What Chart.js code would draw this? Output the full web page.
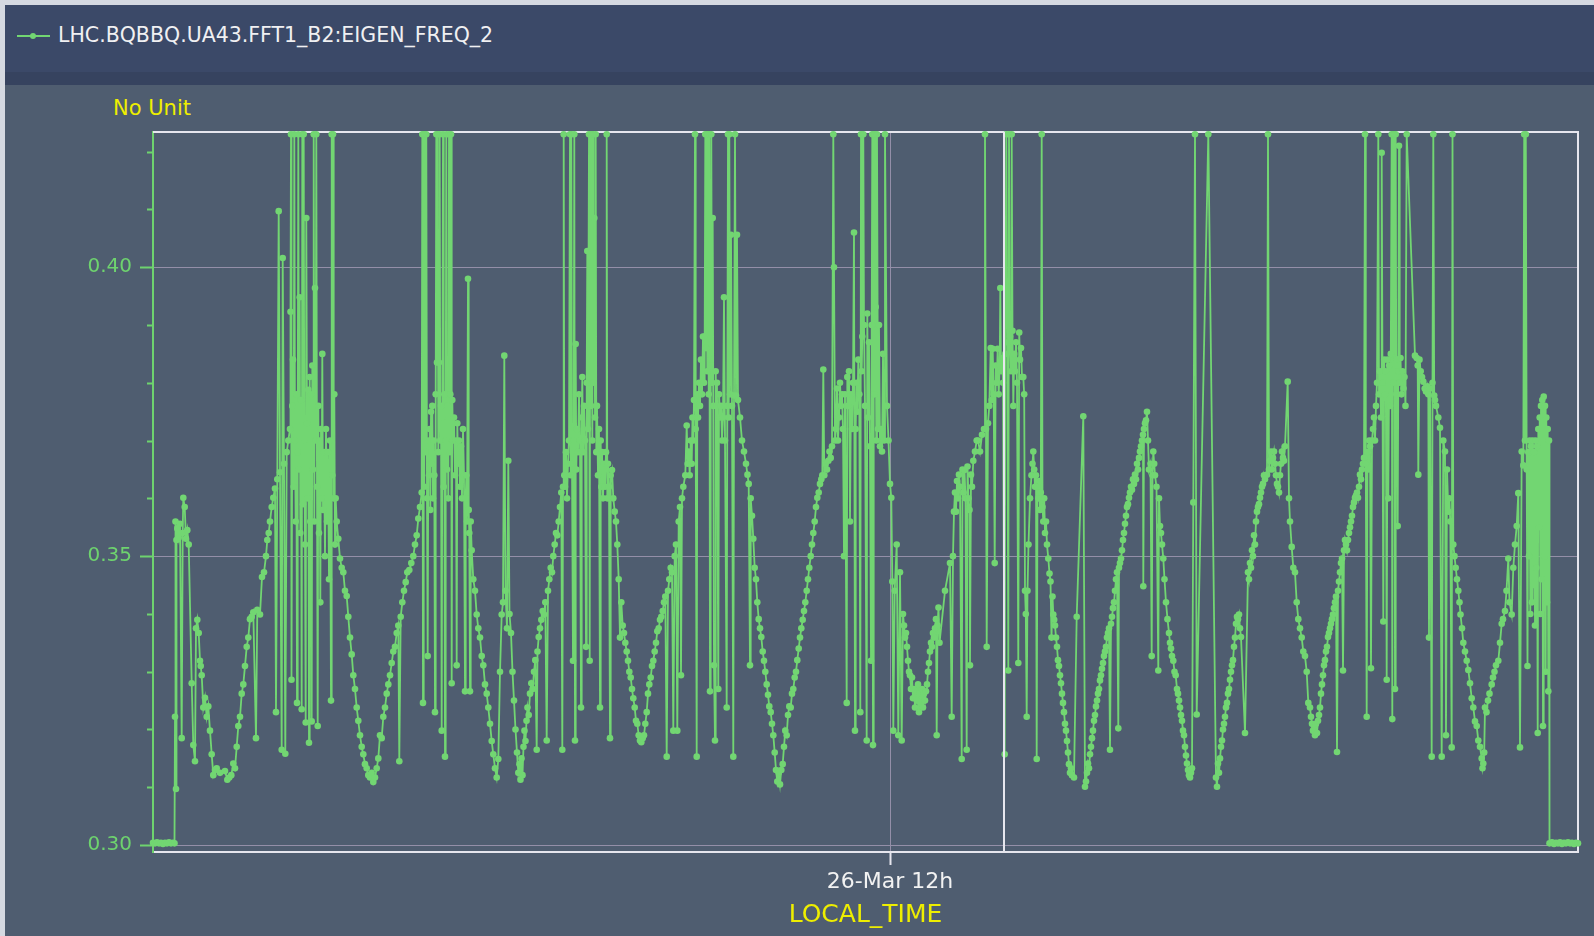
<!DOCTYPE html>
<html>
<head>
<meta charset="utf-8">
<title>LHC.BQBBQ.UA43.FFT1_B2:EIGEN_FREQ_2</title>
<script src="https://cdn.jsdelivr.net/npm/chart.js@4/dist/chart.umd.min.js"></script>
<style>
  html, body { margin: 0; padding: 0; width: 1594px; height: 936px; overflow: hidden;
    background: #4f5d70; font-family: "DejaVu Sans", sans-serif; }
  .edge-top { position: absolute; left: 0; top: 0; width: 1594px; height: 5px; background: #d5d9e1; }
  .edge-left { position: absolute; left: 0; top: 0; width: 5px; height: 936px; background: #d5d9e1; }
  .header { position: absolute; left: 5px; top: 5px; width: 1589px; height: 67px; background: #3b4968; }
  .header-shade { position: absolute; left: 5px; top: 72px; width: 1589px; height: 13px; background: #36435f; }
  .legend-line { position: absolute; left: 17px; top: 35px; width: 33px; height: 2px; background: #72d672; }
  .legend-dot { position: absolute; left: 30px; top: 33px; width: 6px; height: 6px; border-radius: 3px; background: #72d672; }
  .legend-text { position: absolute; left: 58px; top: 22px; line-height: 26px; font-size: 20.5px; color: #f0f0f2; white-space: nowrap; }
  .unit { position: absolute; left: 113px; top: 96px; line-height: 24px; font-size: 21px; color: #eeee00; white-space: nowrap; }
  #chart { position: absolute; left: 0; top: 0; }
</style>
</head>
<body>
<div class="edge-top"></div>
<div class="edge-left"></div>
<div class="header"></div>
<div class="header-shade"></div>
<div class="legend-line"></div>
<div class="legend-dot"></div>
<div class="legend-text" id="legendText"></div>
<div class="unit" id="unitText"></div>
<canvas id="chart" width="1594" height="936"></canvas>
<script>
// Series name and unit shown above the plot
const seriesName = 'LHC.BQBBQ.UA43.FFT1_B2:EIGEN_FREQ_2';
const unitLabel = 'No Unit';
const timeAxisTitle = 'LOCAL_TIME';

// Time axis: minutes since 26-Mar 00:00 local time
const xTickMinutes = [720];
const xTickLabels = ['26-Mar 12h'];
// Time of the vertical cursor line
const cursorMinute = [834];

// Value axis
const yRange = [0.2988, 0.4234];
const yMajorTicks = [0.30, 0.35, 0.40];
const yMinorTicks = [0.31, 0.32, 0.33, 0.34, 0.36, 0.37, 0.38, 0.39, 0.41, 0.42];

// Logged samples: [minute, eigen frequency]
const eigenFreq2Samples = [
  [-17,0.3004],[-15,0.3003],[-13,0.3005],[-11,0.3003],[-9,0.3004],[-7,0.3002],[-5,0.3004],[-3,0.3003],[-1,0.3005],[1,0.3003],[3,0.3004],[4.5,0.3003],
  [5,0.3222],[5.5,0.3560],[6,0.3097],[6.5,0.3528],[7.3,0.3548],[8.7,0.3532],[10,0.3556],[11.7,0.3185],[12.7,0.3540],[13.3,0.3601],[14.7,0.3585],[16,0.3530],[17.3,0.3545],[18.7,0.3520],
  [21.7,0.3280],[23.3,0.3173],[25,0.3145],[26,0.3375],[27.3,0.3390],[28.7,0.3367],[30,0.3319],[30.7,0.3310],[31.7,0.3294],[33.3,0.3238],[35,0.3255],[36.7,0.3222],[38.3,0.3240],[40,0.3198],
  [41.7,0.3157],[43.3,0.3121],[45,0.3130],[46.7,0.3133],[50,0.3125],[55,0.3128],[57.3,0.3113],[59.3,0.3117],[61.3,0.3121],[63.3,0.3141],[65,0.3133],[66.7,0.3170],[68.3,0.3206],[70,0.3222],
  [71.7,0.3262],[73.3,0.3278],[75,0.3310],[76.7,0.3343],[78.3,0.3359],[80,0.3391],[81.7,0.3395],[83.3,0.3403],[86,0.3185],[87.3,0.3407],[90,0.3399],[92,0.3464],[94,0.3472],[96,0.3500],
  [97.3,0.3528],[98.7,0.3540],[100,0.3560],[101.7,0.3585],[103.3,0.3601],[105,0.3617],[106,0.3230],[107.3,0.3633],[108.7,0.4097],[110,0.3645],[111.7,0.3165],[112.7,0.4016],[114,0.3660],
  [115.3,0.3158],[116.7,0.3680],[118.3,0.3700],[120,0.3720],
  [120.5,0.3923],[121,0.4230],[121.5,0.3286],[122.3,0.3760],[123,0.3840],[123.7,0.3620],[124.3,0.4230],[125,0.3700],[125.7,0.3560],[126.3,0.3780],[127,0.3246],[127.7,0.3680],[128.3,0.4230],
  [129,0.3650],[129.7,0.3948],[130.3,0.3540],[131,0.3770],[131.7,0.3235],[132.3,0.4230],[133,0.3590],[133.7,0.4230],[134.3,0.3700],[135,0.3520],[135.7,0.3212],[136.3,0.4085],[137,0.3730],
  [137.7,0.3600],[138.3,0.3788],[139,0.3177],[139.7,0.3810],[140.3,0.3560],[141,0.3780],[141.7,0.3214],[142.3,0.3830],[143,0.3650],[143.7,0.4230],[144.3,0.3560],[145,0.3964],[145.7,0.3700],
  [146.3,0.4230],[147,0.3620],[147.7,0.3206],[148.3,0.3760],[149,0.3540],[149.7,0.3700],[150.3,0.3420],[151,0.3720],[151.7,0.3600],[152.3,0.3850],[153,0.3580],[154,0.3680],[155,0.3500],
  [156,0.3720],[157,0.3560],[158,0.3680],[159,0.3460],[160,0.3700],[161,0.3250],[161.7,0.4230],[162.3,0.3640],[163,0.4230],[163.7,0.3600],[164.3,0.3780],[165,0.3520],[165.7,0.3600],[166.7,0.3560],
  [168.3,0.3530],[170,0.3496],[171.7,0.3480],[173.3,0.3472],[175,0.3440],[176.7,0.3431],[178.3,0.3395],[180,0.3359],[181.7,0.3330],[183.3,0.3294],[185,0.3270],[186.7,0.3238],[188.3,0.3215],
  [190,0.3190],[191.7,0.3170],[193.3,0.3157],[195,0.3140],[196.7,0.3133],[198.3,0.3121],[200,0.3117],[201.7,0.3125],[203.3,0.3109],[205,0.3117],[206.7,0.3133],[208.3,0.3150],[210,0.3190],
  [211.7,0.3185],[213.3,0.3222],[215,0.3238],[216.7,0.3262],[218.3,0.3278],[220,0.3294],[221.7,0.3315],[223.3,0.3335],[225,0.3343],[226.7,0.3367],[228.3,0.3380],[229.3,0.3145],[230.7,0.3395],
  [232.3,0.3420],[234,0.3440],[235.7,0.3455],[237.3,0.3472],[239.3,0.3476],[241.3,0.3488],[243.3,0.3500],[245,0.3520],[246.7,0.3536],[248.3,0.3565],[250,0.3585],[251.7,0.3610],
  [252.3,0.4230],[253,0.3246],[253.7,0.4230],[254.3,0.3620],[255,0.4230],[255.7,0.3680],[256.3,0.4230],[257,0.3600],[257.7,0.3327],[258.3,0.3700],[259,0.3640],[259.7,0.3720],[260.3,0.3580],
  [261,0.3750],[261.7,0.3660],[262.3,0.3760],[263,0.3600],[263.7,0.3700],[264.3,0.3640],[265,0.3230],[265.7,0.3780],[266.3,0.4230],[267,0.3835],[267.7,0.4230],[268.3,0.3680],[269,0.3835],
  [269.7,0.4230],[270.3,0.3700],[271,0.3760],[271.7,0.3198],[272.3,0.3740],[273,0.4230],[273.7,0.3620],[274.3,0.3780],[275,0.3153],[275.7,0.3700],[276.3,0.4230],[277,0.3650],[277.7,0.3760],
  [278.3,0.3600],[279,0.4230],[279.7,0.3680],[280.3,0.3780],[281,0.4230],[281.7,0.3280],[282.3,0.3770],[283,0.3700],[284,0.3740],[285,0.3640],[286,0.3700],[286.7,0.3311],[287.3,0.3730],
  [288,0.3660],[289,0.3700],[290,0.3620],[291,0.3690],[292,0.3600],[293,0.3720],[294,0.3640],[295,0.3266],[295.7,0.3600],[296.3,0.3640],[297,0.3560],[298,0.3980],[298.7,0.3580],[299.3,0.3540],
  [300,0.3266],[300.7,0.3560],
  [301.7,0.3510],[303.3,0.3460],[305,0.3440],[306.7,0.3399],[308.3,0.3375],[310,0.3359],[311.7,0.3327],[313.3,0.3311],[315,0.3278],[316.7,0.3262],[318.3,0.3238],[320,0.3210],[321.7,0.3180],
  [323.3,0.3157],[325,0.3133],[326.7,0.3117],[328.3,0.3149],[330,0.3300],[331.7,0.3399],[333,0.3420],[334.3,0.3847],[335.5,0.3440],[337,0.3375],[338.3,0.3665],[339.5,0.3400],[341,0.3367],
  [342.5,0.3300],[344,0.3250],[345.5,0.3200],[347,0.3160],[348.3,0.3125],[349.5,0.3140],[350.5,0.3113],[351.5,0.3150],[352.5,0.3121],[353.5,0.3170],[354.5,0.3198],[355.5,0.3180],[356.5,0.3215],
  [357.5,0.3238],[358.7,0.3225],[360,0.3262],[361.3,0.3280],[362.7,0.3270],[364,0.3300],[365.3,0.3320],[366.7,0.3165],[367.5,0.3335],[368.7,0.3360],[370,0.3375],[371.3,0.3390],[372.7,0.3405],
  [374,0.3399],[375.3,0.3420],[376.7,0.3181],[378,0.3440],[379.3,0.3460],[380.7,0.3480],[382,0.3472],[383.3,0.3500],[384.7,0.3520],[386,0.3540],[387.3,0.3536],[388.7,0.3560],[390,0.3585],
  [391.3,0.3610],[392.3,0.3165],[393,0.3620],
  [393.7,0.4230],[394.3,0.3640],[395,0.3620],[396,0.3680],[397,0.3600],[398,0.3660],[399,0.3700],[400,0.4230],[400.7,0.3640],[401.3,0.4230],[402,0.3660],[403,0.3319],[403.7,0.3700],
  [404.3,0.4230],[405,0.3181],[405.7,0.3867],[406.3,0.3650],[407,0.3720],[408,0.3680],[409,0.3780],[410,0.3700],[411,0.3238],[411.7,0.3740],[412.3,0.3810],[413,0.3680],[414,0.3760],
  [415,0.3700],[416,0.3343],[416.7,0.3800],[417.3,0.4028],[418,0.3720],[419,0.4230],[419.7,0.3319],[420.3,0.4230],[421,0.3760],[421.7,0.4230],[422.3,0.3700],[423,0.4230],[423.7,0.3800],
  [424.3,0.4085],[425,0.3740],[425.7,0.4230],[426.3,0.3680],[427,0.3760],[428,0.3640],[429,0.3720],[430,0.3238],[430.7,0.3700],[431.3,0.3620],[432,0.3680],[433,0.3600],[434,0.3660],
  [435,0.3620],[436,0.3680],[436.7,0.4230],[437.3,0.3600],[438,0.3660],[439,0.3620],[440,0.3185],[440.7,0.3640],
  [442,0.3649],[443.3,0.3600],[444.7,0.3577],[446,0.3560],[447.3,0.3520],[448.7,0.3460],[450,0.3359],[451.3,0.3420],[452.7,0.3380],[454,0.3367],[455.3,0.3350],[456.7,0.3335],[458,0.3319],
  [459.3,0.3300],[460.7,0.3290],[462,0.3270],[463.3,0.3254],[464.7,0.3238],[466,0.3215],[467.3,0.3210],[468.7,0.3190],[470,0.3181],[471.3,0.3178],[472.7,0.3185],[474,0.3190],[475.3,0.3210],
  [476.7,0.3230],[478,0.3262],[479.3,0.3278],[480.7,0.3290],[482,0.3310],[483.3,0.3319],[484.7,0.3335],[486,0.3350],[487.3,0.3370],[488.7,0.3375],[490,0.3390],[491.3,0.3395],[492.7,0.3405],
  [494,0.3420],[495.3,0.3430],[496.7,0.3153],[498,0.3440],[499.3,0.3460],[500.7,0.3480],[502,0.3472],[503.3,0.3198],[504.7,0.3500],[506,0.3520],[507.3,0.3198],[508.7,0.3560],[510,0.3585],
  [511,0.3294],[512,0.3600],[513.3,0.3620],[515.3,0.3640],[516.7,0.3726],[517.7,0.3660],[518.7,0.3681],[519.7,0.3640],[520.7,0.3700],[521.7,0.3660],
  [522.5,0.3740],[523.3,0.3700],[524,0.3770],[525,0.4230],[525.7,0.3720],[526.7,0.3153],[527.3,0.3780],[528,0.3740],[529,0.3800],[530,0.3760],[531,0.3840],[532,0.3780],[533,0.3880],
  [534,0.3800],[534.7,0.3880],[535.3,0.4230],[536,0.3860],[536.7,0.4230],[537.3,0.3820],[538,0.4230],[538.7,0.3780],[539.3,0.4230],[540,0.3266],[540.7,0.3840],[541.3,0.4230],[542,0.3800],
  [542.7,0.4085],[543.3,0.3760],[544,0.3311],[545,0.3181],[545.7,0.3820],[546.3,0.3760],[547,0.3800],[548.3,0.3270],[549,0.3780],[550,0.3740],[551,0.3760],[552,0.3700],[553,0.3740],
  [554,0.3948],[555,0.3700],[556.7,0.3238],[557.3,0.3760],[558,0.4230],[558.7,0.3740],[559.3,0.4230],[560,0.3780],[561,0.4056],[562,0.3760],[563.3,0.3153],[564,0.3778],[565,0.4230],
  [566,0.3778],[567,0.4056],[568,0.3770],
  [570,0.3740],[572,0.3700],[574,0.3681],[576,0.3660],[577.5,0.3641],[578.7,0.3625],[580,0.3311],[580.7,0.3600],[582,0.3570],[583.3,0.3530],[584.7,0.3480],[586,0.3460],[587.3,0.3420],
  [588.7,0.3391],[590,0.3375],[591.3,0.3360],[592.7,0.3335],[594,0.3319],[595.3,0.3300],[596.7,0.3278],[598,0.3260],[599.3,0.3240],[600.7,0.3230],[602,0.3210],[603.3,0.3190],[604.7,0.3160],
  [606,0.3130],[607.3,0.3110],[608.7,0.3125],[610,0.3105],[611.3,0.3130],[612.7,0.3140],
  [614,0.3170],[615.3,0.3198],[616.7,0.3190],[618,0.3225],[619.3,0.3240],[620.7,0.3238],[622,0.3262],[623.3,0.3270],[624.7,0.3290],[626,0.3300],[627.3,0.3320],[628.7,0.3340],[630,0.3359],
  [631.3,0.3375],[632.7,0.3390],[634,0.3405],[635.3,0.3420],[636.7,0.3440],[638,0.3460],[639.3,0.3480],[640.7,0.3500],[642,0.3520],[643.3,0.3540],[644.7,0.3560],[646,0.3585],[647.3,0.3601],
  [648.7,0.3610],[650,0.3625],[651.3,0.3633],[652.3,0.3640],[653.3,0.3823],[654.3,0.3640],[655.5,0.3660],[657,0.3650],[658.3,0.3665],[659.5,0.3681],[660.7,0.3670],[662,0.3690],
  [663.3,0.4230],[664,0.4000],[665,0.3700],[666,0.3720],[667,0.3790],[668,0.3700],[669,0.3740],[670,0.3800],[671,0.3760],[672,0.3780],[673,0.3720],[674,0.3500],[675,0.3780],
  [676.7,0.3246],[677.3,0.3810],[678,0.3760],[679,0.3820],[680,0.3560],[681,0.3780],[682,0.3720],[683,0.3800],[684,0.4060],[685,0.3198],[685.7,0.3720],[686.5,0.3800],[687.3,0.3750],
  [688.3,0.3840],[689.3,0.3780],[690.3,0.3230],[691,0.4230],[691.7,0.3820],[692.3,0.3880],[693.3,0.4230],[694,0.3900],[695,0.3760],[696.7,0.3181],[697.3,0.3920],[698,0.3740],[699,0.3870],
  [700,0.3690],[701,0.3319],[701.7,0.3900],[702.3,0.4230],[703,0.3173],[703.7,0.4230],[704.3,0.3780],[705,0.4230],[705.7,0.3931],[706.3,0.3700],[707,0.4230],[708,0.3720],[709,0.3900],
  [710,0.3690],[711,0.3720],[712,0.3681],[713,0.3850],[714,0.3700],[715,0.4230],[717,0.3760],[718.5,0.3700],
  [720,0.3625],[721.3,0.3601],[722.3,0.3456],[723.3,0.3198],[724.7,0.3440],[726.7,0.3520],[728.3,0.3190],[730,0.3472],[731.7,0.3181],[733,0.3400],[734,0.3380],[735,0.3359],[736,0.3367],
  [737,0.3343],[738,0.3319],[739,0.3300],[740,0.3294],[741,0.3270],[742,0.3290],[743,0.3254],[744,0.3270],[745,0.3238],[746,0.3262],[747,0.3250],[748,0.3278],[749,0.3230],[750,0.3262],
  [751,0.3246],[752,0.3270],[753,0.3238],[754,0.3262],[755,0.3250],[756,0.3266],[757,0.3278],[758,0.3300],[759,0.3315],[760,0.3335],[761,0.3350],[762,0.3343],[763,0.3367],[764,0.3359],
  [765,0.3375],[766,0.3391],[766.7,0.3190],[767.5,0.3380],[768.5,0.3411],[769.5,0.3350],[775,0.3440],[780,0.3488],[781.7,0.3222],[783,0.3500],[784,0.3577],[785,0.3610],[786,0.3577],
  [787,0.3630],[788,0.3600],[789,0.3641],[790,0.3620],[791.7,0.3149],[792.5,0.3650],[793.5,0.3610],[794.5,0.3649],[795.5,0.3600],[796.7,0.3165],[797.5,0.3655],[798.5,0.3600],[799.5,0.3580],
  [800,0.3311],[801,0.3641],[802,0.3620],[803.3,0.3665],[805,0.3681],[806.7,0.3700],[808,0.3700],[810,0.3681],[812,0.3710],[814,0.3720],[815,0.4230],[816,0.3720],[816.7,0.3343],
  [818,0.3730],[819.3,0.3760],[820.7,0.3860],[821.7,0.3770],[822.7,0.3859],[823.7,0.3780],[824.7,0.3488],[825.7,0.3830],[826.7,0.3800],[827.7,0.3859],[828.7,0.3780],[829.7,0.3830],
  [830.3,0.3964],[831,0.3820],[832,0.3843],[833,0.3800],
  [834.7,0.3157],[835.3,0.3850],[836.3,0.4230],[837.3,0.3870],[838.3,0.3302],[839,0.4230],[840,0.3880],[841,0.3820],[841.7,0.4230],[842.5,0.3890],[843.3,0.3760],[844.2,0.3850],[845,0.3820],
  [846,0.3870],[847,0.3800],[848.3,0.3315],[849.2,0.3887],[850,0.3840],[851,0.3860],[852,0.3810],[853.3,0.3810],[854.2,0.3780],[855,0.3440],[855.8,0.3400],[856.7,0.3222],[857.5,0.3440],
  [858.5,0.3520],[860,0.3600],[861.5,0.3640],[862.5,0.3660],[863.3,0.3681],[864.2,0.3650],[865,0.3620],[866,0.3640],[866.7,0.3149],[867.5,0.3620],[868.5,0.3600],[869.3,0.3630],[870,0.3580],
  [870.8,0.3610],[871.7,0.4230],[872.5,0.3585],[873.3,0.3560],[874.2,0.3600],[875,0.3540],[876,0.3560],
  [877,0.3520],[878.3,0.3496],[879.5,0.3470],[880.5,0.3456],[881.5,0.3359],[882.5,0.3430],[883.3,0.3399],[884.2,0.3390],[885,0.3380],[886,0.3359],[887,0.3343],[888,0.3320],[889,0.3310],
  [890,0.3294],[891,0.3280],[892,0.3262],[893,0.3246],[894,0.3230],[895,0.3210],[896,0.3198],[897,0.3180],[898,0.3160],[899,0.3140],[900,0.3125],[901,0.3133],[902,0.3121],[904,0.3117],
  [906.7,0.3395],[913.3,0.3742],[915,0.3101],[916,0.3110],[917,0.3125],[918,0.3141],[919,0.3133],[920,0.3157],[921,0.3170],[922,0.3185],[923,0.3198],[924,0.3215],[925,0.3225],[926,0.3240],
  [927,0.3250],[928,0.3262],[929,0.3270],[930,0.3285],[931,0.3294],[932,0.3305],[933,0.3315],[934,0.3327],[935,0.3335],[936,0.3343],[937,0.3359],[938,0.3367],[939,0.3375],[940,0.3165],
  [941,0.3383],[942,0.3395],[943,0.3410],[944,0.3420],[945,0.3440],[946,0.3460],[947,0.3472],[948.3,0.3202],[949,0.3480],[950,0.3488],[951,0.3496],[952,0.3510],[953,0.3528],[954,0.3540],
  [955,0.3556],[956,0.3570],[957,0.3585],[958,0.3590],[959,0.3601],[960,0.3610],[961,0.3620],[962,0.3615],[963,0.3633],[964,0.3625],[965,0.3641],[966,0.3633],[967,0.3660],[968,0.3650],
  [969,0.3670],[970,0.3681],[971,0.3690],[972,0.3700],[973,0.3710],[973.3,0.3448],[974,0.3720],[975,0.3730],[976,0.3735],[977,0.3750],[978,0.3700],[979,0.3650],[980.5,0.3660],[981.7,0.3327],
  [982.5,0.3640],[983.3,0.3681],[984.2,0.3660],[985,0.3640],[986.5,0.3620],[988.3,0.3302],[989,0.3600],[990,0.3552],[991,0.3540],[992,0.3520],[993.3,0.3496],[994.5,0.3460],[996,0.3420],
  [997.5,0.3391],[999,0.3367],[1000,0.3350],[1001,0.3340],[1002,0.3327],[1003.3,0.3319],[1004.5,0.3300],[1005.7,0.3294],[1007,0.3270],[1008,0.3262],[1009,0.3250],[1010,0.3238],[1011,0.3225],
  [1012,0.3215],[1013,0.3198],[1014,0.3190],[1015,0.3170],[1016,0.3155],[1017,0.3141],[1018,0.3130],[1019,0.3121],[1020,0.3117],[1021,0.3125],[1022,0.3133],[1023.3,0.3593],[1025,0.4230],
  [1026.7,0.3226],[1038.3,0.4230],[1046,0.3117],[1047,0.3101],[1048,0.3141],[1049,0.3125],
  [1050,0.3150],[1051,0.3170],[1052,0.3181],[1053,0.3200],[1054,0.3210],[1055,0.3222],[1056,0.3238],[1057,0.3246],[1058,0.3262],[1059,0.3270],[1060,0.3286],[1061,0.3300],[1062,0.3311],
  [1063,0.3320],[1064,0.3343],[1065,0.3359],[1066,0.3383],[1067,0.3395],[1068,0.3391],[1069,0.3399],[1070,0.3375],[1071,0.3360],[1075,0.3194],[1078,0.3472],[1079,0.3460],[1080,0.3488],
  [1081,0.3480],[1082,0.3510],[1083,0.3500],[1084,0.3536],[1085,0.3520],[1086,0.3560],[1087,0.3577],[1088,0.3585],[1089,0.3590],[1090,0.3601],[1091,0.3610],[1092,0.3620],[1093,0.3625],
  [1094,0.3640],[1095,0.3633],[1097,0.3641],[1098,0.4230],[1099,0.3650],[1100,0.3665],[1101,0.3681],[1102,0.3650],[1103,0.3670],[1104,0.3681],[1105,0.3660],[1106,0.3640],[1107,0.3625],
  [1108,0.3620],[1109,0.3610],[1110,0.3640],[1111,0.3660],[1112,0.3681],[1113,0.3670],[1114,0.3665],[1115,0.3690],[1117.7,0.3802],[1119,0.3600],[1120,0.3560],[1121.7,0.3516],[1123.3,0.3480],
  [1125,0.3472],[1126.7,0.3420],[1128.3,0.3391],[1130,0.3375],[1131.7,0.3359],[1133.3,0.3335],[1135,0.3327],[1136.7,0.3300],[1138.3,0.3246],[1140,0.3238],[1141,0.3222],[1142,0.3210],
  [1143,0.3198],[1144,0.3206],[1145,0.3190],[1146,0.3210],[1147,0.3194],[1148,0.3215],[1149,0.3225],[1150,0.3238],[1151,0.3262],[1152,0.3278],[1153,0.3294],[1154,0.3311],[1155,0.3320],
  [1156,0.3335],[1157,0.3343],[1158,0.3360],[1159,0.3367],[1160,0.3375],[1161,0.3383],[1162,0.3391],[1163,0.3399],[1164,0.3410],[1165,0.3420],[1166,0.3430],[1167,0.3161],[1168,0.3440],
  [1169,0.3456],[1170,0.3472],[1171,0.3488],[1172,0.3496],[1173,0.3302],[1174,0.3510],[1175,0.3528],[1176,0.3520],[1177,0.3510],[1178,0.3528],[1179,0.3540],[1180,0.3550],[1181,0.3560],
  [1182,0.3570],[1183,0.3585],[1184,0.3593],[1185,0.3601],[1186,0.3605],[1187,0.3610],[1188,0.3601],[1189,0.3620],[1190,0.3641],[1191,0.3633],[1192,0.3650],[1193,0.3660],
  [1194,0.3670],[1195,0.4230],[1195.8,0.3660],[1196.7,0.3222],[1197.5,0.3680],[1198.3,0.3650],[1199.2,0.3700],[1200,0.3690],[1201,0.3306],[1202,0.3700],[1203,0.3720],[1204,0.3740],
  [1205,0.3700],[1206,0.3760],[1207,0.3800],[1208.3,0.4230],[1209,0.3780],[1210,0.3820],[1211,0.3740],[1211.7,0.4198],[1212.5,0.3800],[1213.3,0.3387],[1214.2,0.3840],[1215,0.3780],
  [1215.8,0.3820],[1216.7,0.3286],[1217.5,0.3840],[1218.3,0.3600],[1219.2,0.3830],[1220,0.3760],[1220.8,0.3850],[1221.7,0.4230],[1222.3,0.3218],[1223,0.4230],[1223.7,0.3800],[1224.3,0.4230],
  [1225,0.3270],[1225.7,0.4230],[1226.3,0.3780],[1227,0.3840],[1227.7,0.3552],[1228.3,0.3820],[1229,0.4210],[1229.7,0.3800],[1230.5,0.3843],[1231.5,0.3780],[1232.5,0.3820],[1233.5,0.3790],
  [1234.5,0.3810],[1235.5,0.3760],[1236.7,0.4230],[1245,0.3847],[1246.7,0.3843],[1247.7,0.3830],[1248.3,0.3641],[1249.5,0.3840],[1250.7,0.3820],[1252,0.3810],[1253.3,0.3802],[1254.7,0.3790],
  [1256,0.3785],[1257.3,0.3794],[1258.3,0.3780],[1259,0.3359],[1260,0.3790],[1261.7,0.3153],[1262.5,0.3800],[1263.3,0.4230],[1264.2,0.3778],[1265,0.3770],[1266,0.3760],[1268.3,0.3740],
  [1270,0.3722],[1271.7,0.3153],[1273.3,0.3700],[1275,0.3681],[1276,0.3190],[1277,0.3650],[1278.3,0.3577],[1279.3,0.3600],[1280.3,0.3560],[1281.7,0.3169],[1282.5,0.4230],[1283.3,0.3520],
  [1284.5,0.3500],[1285.7,0.3480],[1287,0.3460],[1288.3,0.3440],[1289.5,0.3420],[1290.5,0.3399],[1292,0.3375],[1293.3,0.3350],[1295,0.3335],[1296.7,0.3319],[1298.3,0.3303],[1300,0.3280],
  [1301.7,0.3254],[1303.3,0.3238],[1305,0.3214],[1306.7,0.3206],[1308.3,0.3181],[1310,0.3170],[1311.7,0.3150],[1312.5,0.3133],[1313.3,0.3141],[1314.2,0.3160],[1315,0.3238],[1316.5,0.3230],
  [1318,0.3250],[1319.5,0.3262],[1321.7,0.3278],[1323,0.3290],[1324.5,0.3300],[1326,0.3311],[1328.3,0.3319],[1330,0.3350],[1331.7,0.3383],[1333,0.3391],[1335,0.3405],[1336.5,0.3440],
  [1338.3,0.3496],[1339.5,0.3420],[1341.7,0.3399],[1343.3,0.3480],[1345,0.3520],[1346.7,0.3552],[1348.3,0.3609],[1350,0.3169],[1351.7,0.3681],[1353.3,0.3657],[1354.2,0.4230],[1355,0.3700],
  [1355.8,0.4230],[1356.7,0.3650],[1357.5,0.3310],[1358.3,0.3680],[1359,0.3500],[1359.7,0.3700],[1360.3,0.3400],[1361,0.3690],[1362,0.3420],[1362.7,0.3700],[1363.3,0.3450],[1364,0.3680],
  [1365,0.3380],[1365.7,0.3700],[1366.3,0.3480],[1367,0.3690],[1367.7,0.3194],[1368.3,0.3720],[1369,0.3550],[1369.7,0.3740],[1370.3,0.3400],[1371,0.3760],[1371.7,0.3460],[1372.3,0.3770],
  [1373,0.3206],[1373.7,0.3776],[1374.3,0.3500],[1375,0.3760],[1375.7,0.3300],[1376.3,0.3740],[1377,0.3420],[1377.7,0.3720],[1378.3,0.3266],[1379,0.3700],
  [1379.5,0.3003],[1382,0.3005],[1384,0.3002],[1386,0.3004],[1388,0.3003],[1390,0.3005],[1392,0.3002],[1394,0.3004],[1396,0.3003],[1398,0.3005],[1400,0.3003],[1402,0.3004],[1404,0.3002],
  [1406,0.3004],[1408,0.3003]
];

const GREEN = '#72d672';
const AXIS_GREEN = '#6ed36e';
const GRID = '#948fa8';
const FRAME = '#e6e6ee';
const YELLOW = '#eeee00';
const FONT = '"DejaVu Sans", sans-serif';

document.getElementById('legendText').textContent = seriesName;
document.getElementById('unitText').textContent = unitLabel;

// Frame, y-axis tick marks and the cursor line
const framePlugin = {
  id: 'frame',
  beforeDatasetsDraw(chart) {
    const { ctx, chartArea: a, scales: { y } } = chart;
    ctx.save();
    ctx.strokeStyle = FRAME;
    ctx.lineWidth = 2;
    ctx.beginPath();
    ctx.moveTo(a.left, a.top);
    ctx.lineTo(a.right, a.top);
    ctx.lineTo(a.right, a.bottom);
    ctx.stroke();
    ctx.strokeStyle = AXIS_GREEN;
    ctx.lineWidth = 2;
    ctx.beginPath();
    yMajorTicks.forEach(v => { const py = Math.round(y.getPixelForValue(v)) + 0.5; ctx.moveTo(a.left - 13, py); ctx.lineTo(a.left, py); });
    yMinorTicks.forEach(v => { const py = Math.round(y.getPixelForValue(v)) + 0.5; ctx.moveTo(a.left - 6, py); ctx.lineTo(a.left, py); });
    ctx.stroke();
    ctx.restore();
  },
  afterDatasetsDraw(chart) {
    const { ctx, chartArea: a, scales: { x } } = chart;
    ctx.save();
    ctx.strokeStyle = FRAME;
    ctx.lineWidth = 2;
    cursorMinute.forEach(m => {
      const px = Math.round(x.getPixelForValue(m));
      ctx.beginPath();
      ctx.moveTo(px, a.top);
      ctx.lineTo(px, a.bottom);
      ctx.stroke();
    });
    ctx.restore();
  }
};

Chart.defaults.font.family = FONT;

new Chart(document.getElementById('chart'), {
  type: 'line',
  data: {
    datasets: [{
      label: seriesName,
      data: eigenFreq2Samples.map(([m, v]) => ({ x: m, y: v })),
      borderColor: GREEN,
      backgroundColor: GREEN,
      borderWidth: 1.8,
      pointRadius: 3.3,
      pointHoverRadius: 3.3,
      pointBorderWidth: 0,
      pointBackgroundColor: GREEN,
      tension: 0,
      clip: 6
    }]
  },
  options: {
    responsive: false,
    animation: false,
    events: [],
    layout: { padding: { left: 0, top: 132, right: 16, bottom: 0 } },
    plugins: { legend: { display: false }, tooltip: { enabled: false } },
    scales: {
      x: {
        type: 'linear',
        min: eigenFreq2Samples[0][0],
        max: eigenFreq2Samples[eigenFreq2Samples.length - 1][0],
        afterFit(s) { s.height = 84; },
        afterBuildTicks(s) { s.ticks = xTickMinutes.map(v => ({ value: v })); },
        grid: { color: GRID, lineWidth: 1, drawTicks: true, tickLength: 13, tickColor: FRAME, tickWidth: 2 },
        border: { display: true, color: FRAME, width: 2 },
        ticks: {
          color: '#f2f2f2', font: { size: 22 }, padding: 4, maxRotation: 0, autoSkip: false,
          callback(value) { const i = xTickMinutes.indexOf(value); return i >= 0 ? xTickLabels[i] : ''; }
        },
        title: { display: true, text: timeAxisTitle, color: YELLOW, font: { size: 25 }, padding: { top: 0, bottom: 6 } }
      },
      y: {
        min: yRange[0],
        max: yRange[1],
        afterFit(s) { s.width = 153; },
        afterBuildTicks(s) { s.ticks = yMajorTicks.map(v => ({ value: v })); },
        grid: { color: GRID, lineWidth: 1, drawTicks: false },
        border: { display: true, color: AXIS_GREEN, width: 2 },
        ticks: { color: AXIS_GREEN, font: { size: 20 }, padding: 21, callback: v => v.toFixed(2) }
      }
    }
  },
  plugins: [framePlugin]
});
</script>
</body>
</html>
